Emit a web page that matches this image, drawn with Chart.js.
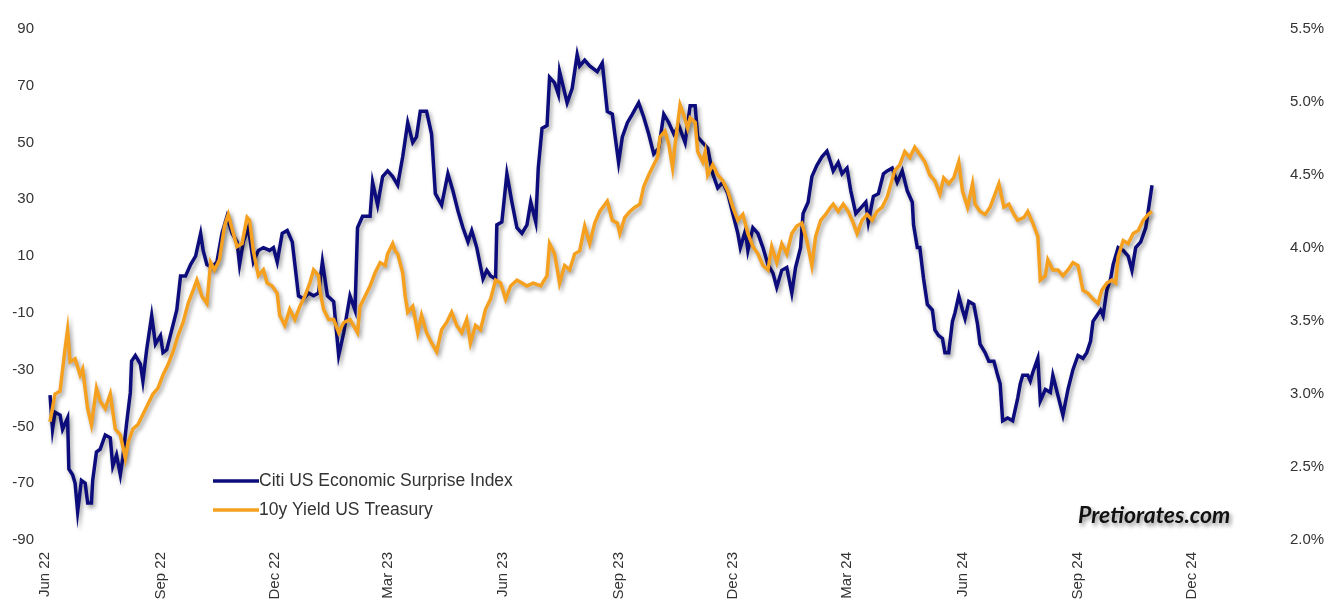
<!DOCTYPE html>
<html>
<head>
<meta charset="utf-8">
<script src="https://cdn.jsdelivr.net/npm/chart.js@4.4.1/dist/chart.umd.min.js"></script>
<style>
  html, body { margin: 0; padding: 0; background: #ffffff; }
  #wrap { position: relative; width: 1326px; height: 612px; }
</style>
</head>
<body>
<div id="wrap"><canvas id="chart"></canvas></div>
<script>
// Days counted from 1 Jun 2022
const quarterDays   = [0, 92, 183, 273, 365, 457, 548, 639, 731, 823, 914];
const quarterLabels = ['Jun 22', 'Sep 22', 'Dec 22', 'Mar 23', 'Jun 23', 'Sep 23',
                       'Dec 23', 'Mar 24', 'Jun 24', 'Sep 24', 'Dec 24'];

const leftTicks  = [-90, -70, -50, -30, -10, 10, 30, 50, 70, 90];
const rightTicks = [2.0, 2.5, 3.0, 3.5, 4.0, 4.5, 5.0, 5.5];

const citiLabel  = 'Citi US Economic Surprise Index';
const yieldLabel = '10y Yield US Treasury';

// Citi US Economic Surprise Index
const citiDays = [4,6,8,12,14,18,19,22,24,26,29,32,34,37,38,41,44,48,52,54,57,60,62,65,68,69,72,76,78,81,
  85,88,92,94,97,101,105,108,112,116,120,124,126,129,133,137,141,145,149,153,155,158,162,166,170,174,179,182,185,189,
  193,197,202,206,210,214,218,221,225,230,234,238,243,247,249,253,259,261,265,269,273,277,281,285,289,293,296,299,304,308,
  311,316,321,325,329,333,337,340,344,349,352,355,359,360,364,368,372,376,380,384,387,391,393,396,400,402,406,409,410,416,
  420,424,426,430,434,440,444,448,452,454,457,460,464,468,473,477,481,485,489,493,497,501,505,510,514,518,520,524,528,532,
  536,540,544,548,552,554,558,560,564,568,572,576,580,583,587,591,595,598,602,604,608,611,615,619,623,626,628,632,635,639,
  642,646,650,654,656,660,664,668,671,675,679,683,687,691,692,695,697,700,703,707,709,712,715,717,720,723,725,728,731,733,
  736,740,743,745,749,752,756,759,761,763,767,771,775,777,779,783,785,787,791,793,797,801,803,807,811,815,819,823,827,830,
  833,835,838,841,843,846,849,851,855,859,863,866,869,873,877,879,882];
const citiValues = [-39,-51,-45,-46,-51,-47,-65,-67,-70,-80,-69,-70,-77,-77,-69,-59,-58,-53,-54,-64,-60,-67,-61,-49,-38,-27,-25,-28,-34,-23,
  -11,-21,-18,-24,-23,-16,-9,3,3,7,10,18,12,7,6,8,18,24,18,15,7,15,20,8,12,13,12,13,8,18,
  19,15,-4,-5,-3,-4,-3,8,-4,-6,-25,-17,-4,-9,20,24,24,36,28,38,40,38,35,45,57,50,52,61,61,53,
  32,28,39,33,26,20,15,19,13,2,5,3,2,21,22,39,29,20,18,21,29,22,41,55,56,73,71,67,75,64,
  69,81,77,79,77,75,78,61,60,53,43,52,57,60,64,59,53,46,48,60,57,53,56,50,63,63,52,50,48,39,
  34,36,32,25,18,13,19,12,20,18,13,7,4,-1,5,6,-3,6,13,25,29,38,42,45,47,43,40,43,39,41,
  33,25,27,29,22,31,32,39,40,41,36,40,33,29,21,13,13,2,-7,-9,-16,-18,-19,-24,-24,-13,-10,-4,-9,-12,
  -6,-7,-14,-21,-24,-27,-27,-32,-35,-48,-47,-48,-40,-35,-32,-32,-34,-31,-26,-41,-37,-38,-32,-39,-46,-37,-30,-25,-26,-24,
  -20,-13,-11,-9,-11,-2,2,7,13,12,10,5,13,15,20,26,35];

// 10y US Treasury yield, percent
const yieldDays = [4,8,12,16,18,20,24,28,30,34,37,41,44,48,52,56,60,64,66,70,74,78,82,86,90,94,98,102,106,110,
  114,118,121,125,129,132,135,139,143,146,150,153,157,161,163,166,170,174,177,181,185,187,191,195,199,203,207,211,214,218,
  219,222,226,230,234,238,243,249,251,255,259,263,267,271,273,277,279,281,285,287,289,293,297,300,304,308,312,316,320,324,
  328,332,336,339,343,347,351,355,359,363,367,371,376,380,384,389,395,400,402,406,410,414,418,422,426,430,434,438,442,448,
  452,456,458,462,466,470,474,477,481,485,488,490,494,497,500,502,506,509,512,514,518,520,524,526,528,532,536,540,544,548,
  552,556,560,564,568,572,576,579,583,587,591,595,599,603,607,611,614,618,622,626,628,632,636,640,644,647,651,655,659,663,
  667,671,677,681,685,689,693,697,701,705,709,713,716,720,724,728,731,735,739,741,745,749,753,757,760,764,768,772,775,780,
  783,787,791,793,797,799,803,807,811,815,819,823,827,831,835,839,842,846,850,853,855,859,863,867,871,875,879,882];
const yieldValues = [2.81,3.00,3.02,3.31,3.44,3.22,3.24,3.13,3.17,2.90,2.79,3.04,2.95,2.90,3.00,2.76,2.72,2.56,2.66,2.76,2.79,2.86,2.93,3.00,3.04,3.13,3.20,3.29,3.40,3.49,
  3.62,3.71,3.78,3.67,3.62,3.90,3.85,3.92,4.15,4.23,4.10,4.01,4.03,4.21,4.19,3.98,3.81,3.85,3.76,3.74,3.69,3.54,3.47,3.58,3.51,3.60,3.67,3.76,3.85,3.81,
  3.71,3.58,3.51,3.51,3.42,3.49,3.51,3.42,3.60,3.67,3.74,3.83,3.90,3.88,3.96,4.03,3.98,3.96,3.83,3.67,3.56,3.60,3.42,3.54,3.42,3.35,3.29,3.44,3.49,3.56,
  3.47,3.42,3.51,3.35,3.47,3.44,3.58,3.65,3.78,3.76,3.65,3.74,3.78,3.76,3.74,3.76,3.74,3.81,4.03,3.96,3.76,3.88,3.85,3.96,3.98,4.15,4.03,4.17,4.25,4.32,
  4.19,4.17,4.10,4.21,4.25,4.28,4.30,4.42,4.50,4.57,4.62,4.76,4.80,4.71,4.55,4.71,4.98,4.91,4.82,4.89,4.86,4.66,4.59,4.66,4.50,4.57,4.50,4.46,4.39,4.28,
  4.19,4.23,4.10,4.01,3.96,3.88,3.85,4.01,3.90,4.03,3.96,4.10,4.15,4.17,4.05,3.88,4.08,4.19,4.23,4.28,4.30,4.25,4.30,4.25,4.17,4.10,4.19,4.23,4.19,4.25,
  4.28,4.35,4.53,4.57,4.66,4.62,4.69,4.64,4.59,4.50,4.46,4.37,4.48,4.44,4.48,4.59,4.39,4.28,4.44,4.30,4.25,4.23,4.28,4.37,4.44,4.28,4.30,4.23,4.19,4.21,
  4.25,4.17,4.08,3.78,3.81,3.92,3.85,3.85,3.81,3.85,3.90,3.88,3.71,3.69,3.65,3.62,3.71,3.76,3.78,3.76,3.94,4.05,4.03,4.10,4.12,4.19,4.23,4.25];

const NAVY   = '#0c0c7c';
const ORANGE = '#f5a11f';
const TEXT   = '#333333';
const FONT   = '"Liberation Sans", Arial, sans-serif';

const toPoints = (days, vals) => days.map((d, i) => ({ x: d, y: vals[i] }));

// Soft grey drop shadow under each line
const lineShadow = {
  id: 'lineShadow',
  beforeDatasetDraw(chart) {
    const ctx = chart.ctx;
    ctx.save();
    ctx.shadowColor = 'rgba(0,0,0,0.38)';
    ctx.shadowBlur = 4;
    ctx.shadowOffsetX = 2;
    ctx.shadowOffsetY = 3;
  },
  afterDatasetDraw(chart) {
    chart.ctx.restore();
  }
};

// Legend inside the plot and the site mark
const overlay = {
  id: 'overlay',
  afterDraw(chart) {
    const ctx = chart.ctx;
    const items = [
      { label: citiLabel,  color: NAVY,   y: 481 },
      { label: yieldLabel, color: ORANGE, y: 510 }
    ];
    ctx.save();
    ctx.font = '17.5px ' + FONT;
    ctx.textBaseline = 'middle';
    items.forEach(it => {
      ctx.strokeStyle = it.color;
      ctx.lineWidth = 3.5;
      ctx.beginPath();
      ctx.moveTo(213, it.y);
      ctx.lineTo(259, it.y);
      ctx.stroke();
      ctx.fillStyle = TEXT;
      ctx.fillText(it.label, 259, it.y);
    });
    ctx.font = 'italic bold 23px Lato, "Open Sans", sans-serif';
    ctx.shadowColor = 'rgba(0,0,0,0.45)';
    ctx.shadowBlur = 4;
    ctx.shadowOffsetX = 2;
    ctx.shadowOffsetY = 3;
    ctx.fillStyle = '#111111';
    ctx.textBaseline = 'alphabetic';
    ctx.fillText('Pretiorates.com', 1078, 523);
    ctx.restore();
  }
};

new Chart(document.getElementById('chart'), {
  type: 'line',
  data: {
    datasets: [
      {
        label: citiLabel,
        data: toPoints(citiDays, citiValues),
        yAxisID: 'yLeft',
        borderColor: NAVY,
        borderWidth: 3.5,
        pointRadius: 0,
        tension: 0,
        order: 1
      },
      {
        label: yieldLabel,
        data: toPoints(yieldDays, yieldValues),
        yAxisID: 'yRight',
        borderColor: ORANGE,
        borderWidth: 3.5,
        pointRadius: 0,
        tension: 0,
        order: 0
      }
    ]
  },
  options: {
    responsive: true,
    maintainAspectRatio: false,
    animation: false,
    events: [],
    layout: { padding: { top: 23, left: 0, right: 0, bottom: 0 } },
    plugins: { legend: { display: false }, tooltip: { enabled: false } },
    scales: {
      x: {
        type: 'linear',
        min: 0,
        max: 976,
        grid: { display: false, drawTicks: false },
        border: { display: false },
        afterBuildTicks: s => { s.ticks = quarterDays.map(v => ({ value: v })); },
        afterFit: s => { s.height = 72; },
        ticks: {
          autoSkip: false,
          minRotation: 90,
          maxRotation: 90,
          padding: 12,
          color: TEXT,
          font: { family: FONT, size: 15 },
          callback: v => quarterLabels[quarterDays.indexOf(v)]
        }
      },
      yLeft: {
        position: 'left',
        min: -90,
        max: 90,
        grid: { display: false, drawTicks: false },
        border: { display: false },
        afterBuildTicks: s => { s.ticks = leftTicks.map(v => ({ value: v })); },
        afterFit: s => { s.width = 45; },
        ticks: {
          padding: 11,
          color: TEXT,
          font: { family: FONT, size: 15 },
          callback: v => String(v)
        }
      },
      yRight: {
        position: 'right',
        min: 2.0,
        max: 5.5,
        grid: { display: false, drawTicks: false },
        border: { display: false },
        afterBuildTicks: s => { s.ticks = rightTicks.map(v => ({ value: v })); },
        afterFit: s => { s.width = 56; },
        ticks: {
          padding: 20,
          color: TEXT,
          font: { family: FONT, size: 15 },
          callback: v => Number(v).toFixed(1) + '%'
        }
      }
    }
  },
  plugins: [lineShadow, overlay]
});
</script>
</body>
</html>
